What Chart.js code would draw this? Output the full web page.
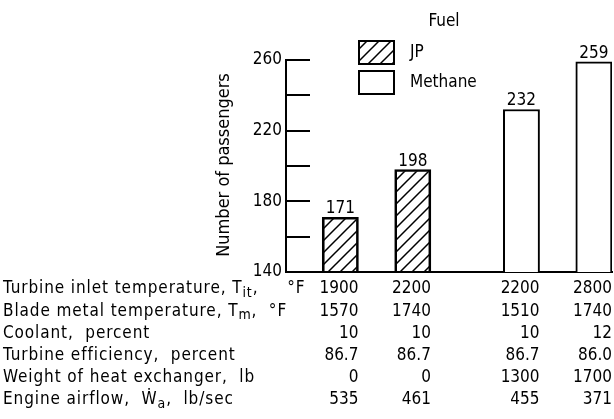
<!DOCTYPE html>
<html>
<head>
<meta charset="utf-8">
<script src="https://cdn.jsdelivr.net/npm/chart.js@4/dist/chart.umd.min.js"></script>
<style>
  html, body { margin: 0; padding: 0; background: #fff; }
</style>
</head>
<body>
<canvas id="chart" width="614" height="419"></canvas>
<script>
// chart values
const fuels = ["JP", "Methane"];
const caseFuel = ["JP", "JP", "Methane", "Methane"];
const passengers = [171, 198, 232, 259];
const yTickLabels = [140, 180, 220, 260];

// table under the chart
const rowLabels = [
  "Turbine inlet temperature, T_{it},     °F",
  "Blade metal temperature, T_{m},  °F",
  "Coolant,  percent",
  "Turbine efficiency,  percent",
  "Weight of heat exchanger,  lb",
  "Engine airflow,  Ẇ_{a},  lb/sec",
];
const inletTemp = ["1900", "2200", "2200", "2800"];
const bladeTemp = ["1570", "1740", "1510", "1740"];
const coolant = ["10", "10", "10", "12"];
const efficiency = ["86.7", "86.7", "86.7", "86.0"];
const hxWeight = ["0", "0", "1300", "1700"];
const airflow = ["535", "461", "455", "371"];
const tableRows = [inletTemp, bladeTemp, coolant, efficiency, hxWeight, airflow];

const yTitle = "Number of passengers";
const legendTitle = "Fuel";

// layout: the four cases sit in a 9 slot category axis, with a wider gap between fuels
const slotOf = [1, 3, 6, 8];
const slotCount = 9;

const FONT = '"DejaVu Sans Condensed", "Liberation Sans Narrow", sans-serif';
const FS = 17;
Chart.defaults.font.family = FONT;
Chart.defaults.color = "#000";

const canvas = document.getElementById("chart");
const ctx = canvas.getContext("2d");

function makeHatch() {
  const s = 12;
  const c = document.createElement("canvas");
  c.width = s;
  c.height = s;
  const g = c.getContext("2d");
  g.strokeStyle = "#000";
  g.lineWidth = 1.5;
  g.beginPath();
  g.moveTo(-1, s + 1);
  g.lineTo(s + 1, -1);
  g.moveTo(-3, 3);
  g.lineTo(3, -3);
  g.moveTo(s - 3, s + 3);
  g.lineTo(s + 3, s - 3);
  g.stroke();
  return ctx.createPattern(c, "repeat");
}
const hatch = makeHatch();
const fills = { JP: hatch, Methane: "#fff" };

const slotLabels = [];
for (let i = 0; i < slotCount; i++) slotLabels.push("");
caseFuel.forEach((f, i) => (slotLabels[slotOf[i]] = f + " " + inletTemp[i]));

const datasets = fuels.map((fuel) => {
  const data = new Array(slotCount).fill(null);
  caseFuel.forEach((f, i) => {
    if (f === fuel) data[slotOf[i]] = passengers[i];
  });
  return {
    label: fuel,
    data: data,
    backgroundColor: fills[fuel],
    borderColor: "#000",
    borderWidth: 2,
    borderSkipped: "bottom",
    barPercentage: 1,
    categoryPercentage: 1,
    grouped: false,
  };
});

function drawRich(c, text, x, y, size) {
  // simple _{sub} support
  const parts = text.split(/(_\{[^}]*\})/);
  let cx = x;
  parts.forEach((p) => {
    if (!p) return;
    if (p.startsWith("_{")) {
      const t = p.slice(2, -1);
      c.font = Math.round(size * 0.8) + "px " + FONT;
      c.fillText(t, cx, y + 4);
      cx += c.measureText(t).width;
    } else {
      c.font = size + "px " + FONT;
      c.fillText(p, cx, y);
      cx += c.measureText(p).width;
    }
  });
}

const extras = {
  id: "extras",
  afterDraw(chart) {
    const c = chart.ctx;
    const area = chart.chartArea;
    const x = chart.scales.x;
    const y = chart.scales.y;
    c.save();
    c.fillStyle = "#000";
    c.strokeStyle = "#000";

    // inward tick marks every 20
    c.lineWidth = 2;
    for (let v = y.min + 20; v <= y.max; v += 20) {
      const py = Math.round(y.getPixelForValue(v));
      c.beginPath();
      c.moveTo(area.left, py);
      c.lineTo(area.left + 24, py);
      c.stroke();
    }

    // value labels above bars
    c.font = FS + "px " + FONT;
    c.textAlign = "center";
    c.textBaseline = "alphabetic";
    passengers.forEach((v, i) => {
      const px = x.getPixelForValue(slotOf[i]);
      c.fillText(String(v), px, y.getPixelForValue(v) - 4);
    });

    // y axis title
    c.save();
    c.translate(229, 165);
    c.rotate(-Math.PI / 2);
    c.textAlign = "center";
    c.font = "18px " + FONT;
    c.fillText(yTitle, 0, 0);
    c.restore();

    // legend
    c.textAlign = "center";
    c.textBaseline = "middle";
    c.font = FS + "px " + FONT;
    c.fillText(legendTitle, 444, 22);
    chart.data.datasets.forEach((ds, i) => {
      const by = 41 + i * 30;
      c.fillStyle = ds.backgroundColor;
      c.fillRect(359, by, 35, 23);
      c.lineWidth = 2;
      c.strokeRect(359, by, 35, 23);
      c.fillStyle = "#000";
      c.textAlign = "left";
      c.fillText(ds.label, 410, by + 12);
    });

    // table
    c.textBaseline = "middle";
    const rowTop = 289;
    const rowStep = 22.2;
    rowLabels.forEach((lab, r) => {
      const ry = rowTop + r * rowStep;
      c.textAlign = "left";
      c.letterSpacing = "0.9px";
      drawRich(c, lab, 3, ry, FS);
      c.letterSpacing = "0px";
      c.font = FS + "px " + FONT;
      c.textAlign = "right";
      tableRows[r].forEach((val, i) => {
        const right = x.getPixelForValue(slotOf[i]) + x.width / slotCount / 2;
        c.fillText(val, right, ry);
      });
    });
    c.restore();
  },
};

new Chart(canvas, {
  type: "bar",
  data: { labels: slotLabels, datasets: datasets },
  options: {
    responsive: false,
    animation: false,
    layout: { padding: { left: 0, right: 2, top: 60, bottom: 147 } },
    plugins: { legend: { display: false }, tooltip: { enabled: false } },
    scales: {
      x: {
        ticks: { display: false },
        grid: { display: false, drawTicks: false },
        border: { display: true, color: "#000", width: 2 },
        afterFit: (s) => (s.height = 0),
      },
      y: {
        min: 140,
        max: 260,
        ticks: {
          stepSize: 20,
          padding: 4,
          font: { size: FS },
          color: "#000",
          callback: (v) => (yTickLabels.includes(v) ? String(v) : ""),
        },
        grid: { display: false, drawTicks: false },
        border: { display: true, color: "#000", width: 2 },
        afterFit: (s) => (s.width = 286),
      },
    },
  },
  plugins: [extras],
});
</script>
</body>
</html>
